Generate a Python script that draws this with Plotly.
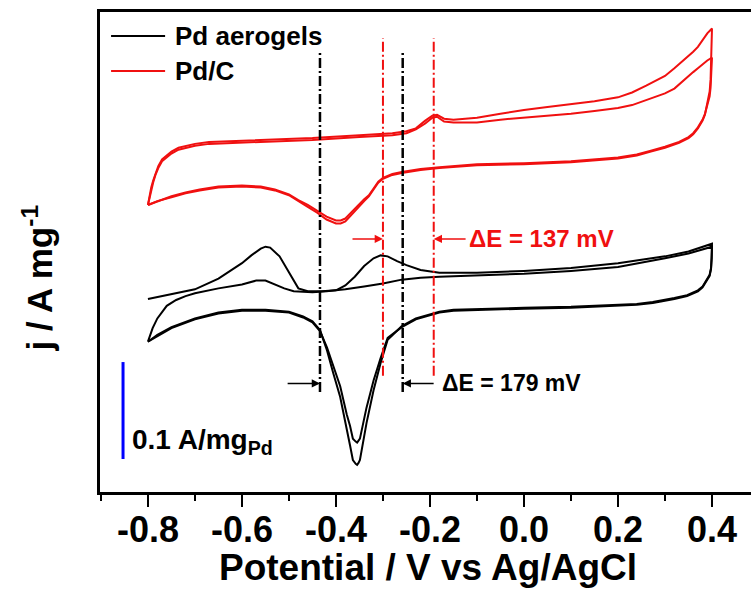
import plotly.graph_objects as go

# ---------------- data ----------------
# Pd aerogels, cycle 1 (anodic then cathodic), j in mA/mg (offset for display)
E_aero_fwd1 = [-0.80, -0.75, -0.70, -0.65, -0.60, -0.58, -0.56, -0.55, -0.54, -0.52, -0.50, -0.49, -0.48,
               -0.46, -0.43, -0.40, -0.38, -0.36, -0.34, -0.32, -0.305, -0.29, -0.27, -0.25, -0.22, -0.18,
               -0.10, 0.00, 0.10, 0.20, 0.30, 0.35, 0.40]
j_aero_fwd1 = [199, 204, 209, 220, 236, 244, 251, 253, 252, 243, 227, 218, 210,
               207, 207, 208, 213, 222, 233, 241, 244, 243, 238, 234, 229, 226,
               226, 228, 231, 236, 243, 248, 256]

E_aero_rev = [0.40, 0.3995, 0.398, 0.395, 0.389, 0.38, 0.37, 0.36, 0.347, 0.32, 0.30, 0.274, 0.24, 0.20,
              0.10, 0.00, -0.10, -0.15, -0.18, -0.23, -0.26, -0.29, -0.305, -0.32, -0.335, -0.345,
              -0.349, -0.352, -0.355, -0.358, -0.364, -0.37, -0.377, -0.391, -0.406, -0.419, -0.434,
              -0.45, -0.47, -0.50, -0.55, -0.60, -0.65, -0.70, -0.75, -0.78, -0.80]
j_aero_rev1 = [256, 241, 231, 224, 219, 212, 208, 206, 203, 200, 198, 196, 194, 193,
               191, 190, 189, 188, 186, 179, 171, 157, 133, 105, 71, 45,
               33, 30, 28, 29, 33, 48, 64, 98, 123, 146, 167,
               176, 181, 186, 188, 188, 185, 179, 170, 162, 155]

# Pd aerogels, cycle 2
E_aero_fwd2 = [-0.80, -0.79, -0.78, -0.76, -0.74, -0.72, -0.70, -0.65, -0.60, -0.57, -0.55, -0.53, -0.51,
               -0.49, -0.45, -0.42, -0.38, -0.34, -0.30, -0.26, -0.22, -0.18, -0.10, 0.00, 0.10, 0.20,
               0.30, 0.35, 0.40]
j_aero_fwd2 = [155, 169, 179, 192, 198, 202, 205, 210, 214, 218, 218, 214, 210,
               207, 206, 207, 209, 212, 215, 219, 221, 222, 223, 225, 228, 232,
               241, 246, 253]
j_aero_rev2 = [253, 239, 230, 223, 218, 211, 207, 205, 202, 199, 197, 195, 193, 192,
               190, 189, 188, 187, 185, 178, 170, 159, 138, 115, 87, 65,
               55, 53, 51, 52, 55, 68, 80, 109, 130, 149, 166,
               175, 180, 185, 187, 187, 184, 178, 169, 161, 155]

# Pd/C, cycles 1 and 2
E_pdc_fwd = [-0.80, -0.797, -0.793, -0.789, -0.784, -0.778, -0.77, -0.76, -0.75, -0.735, -0.72, -0.70, -0.67,
             -0.55, -0.45, -0.35, -0.28, -0.25, -0.23, -0.21, -0.195, -0.185, -0.17, -0.15, -0.10, -0.05,
             0.00, 0.05, 0.10, 0.15, 0.20, 0.23, 0.26, 0.28, 0.30, 0.32, 0.34, 0.36, 0.37, 0.38, 0.39, 0.40]
j_pdc_fwd1 = [296, 304, 314, 321, 329, 336, 343, 347, 351, 355, 357, 359, 361,
              363, 365, 368, 370, 372, 375, 383, 388, 389, 385, 384, 386, 390,
              394, 397, 400, 403, 407, 412, 419, 424, 429, 437, 445, 454, 459, 466, 473, 478]
j_pdc_fwd2 = [296, 303, 312, 319, 327, 334, 341, 345, 349, 353, 355, 357, 359,
              361, 363, 366, 368, 370, 374, 380, 386, 387, 382, 381, 381, 384,
              386, 388, 390, 393, 396, 399, 404, 407, 411, 416, 425, 433, 437, 441, 445, 448]

E_pdc_rev = [0.40, 0.399, 0.397, 0.395, 0.39, 0.385, 0.38, 0.37, 0.36, 0.35, 0.33, 0.30, 0.27, 0.24,
             0.20, 0.15, 0.10, 0.00, -0.10, -0.18, -0.22, -0.26, -0.28, -0.30, -0.31, -0.32, -0.33,
             -0.34, -0.35, -0.36, -0.37, -0.38, -0.39, -0.40, -0.42, -0.44, -0.46, -0.48, -0.50,
             -0.53, -0.56, -0.60, -0.65, -0.69, -0.72, -0.75, -0.78, -0.80]
j_pdc_rev1 = [478, 445, 425, 413, 399, 389, 383, 375, 369, 365, 360, 355, 351, 347,
              344, 342, 340, 338, 337, 334, 332, 329, 327, 323, 319, 312, 305,
              300, 295, 290, 285, 279, 277, 277, 281, 288, 294, 300, 306,
              311, 314, 315, 314, 311, 308, 304, 300, 296]
j_pdc_rev2 = [448, 430, 417, 408, 398, 390, 384, 376, 370, 366, 361, 356, 352, 348,
              345, 343, 341, 339, 338, 335, 333, 330, 328, 324, 320, 313, 306,
              302, 297, 292, 288, 282, 280, 280, 284, 290, 296, 301, 307,
              312, 315, 316, 315, 312, 309, 305, 300, 296]

# peak-potential markers (V) and their vertical extent (mA/mg)
marker_E_aero = [-0.434, -0.258]
marker_E_pdc = [-0.300, -0.192]
marker_j_aero = [103, 454]
marker_j_pdc = [120, 468]

# delta-E labels
dE_aero_text = "ΔE = 179 mV"
dE_pdc_text = "ΔE = 137 mV"
dE_aero_j = 112
dE_pdc_j = 261

# scale bar: 0.1 A/mg = 100 mA/mg
scale_E = -0.853
scale_j = [34, 134]

tick_vals = [-0.8, -0.6, -0.4, -0.2, 0.0, 0.2, 0.4]
tick_text = ["-0.8", "-0.6", "-0.4", "-0.2", "0.0", "0.2", "0.4"]
minor_vals = [-0.9, -0.7, -0.5, -0.3, -0.1, 0.1, 0.3]

series_names = ["Pd aerogels", "Pd/C"]
BLACK = "#000000"
RED = "#f01010"
BLUE = "#0000ff"
FONT = "Liberation Sans, Arial, sans-serif"

# ---------------- figure ----------------
fig = go.Figure()

def add_cv(E, j, color, name):
    fig.add_trace(go.Scatter(x=E, y=j, mode="lines", name=name,
                             line=dict(color=color, width=2),
                             showlegend=False, hoverinfo="skip"))

add_cv(E_aero_fwd1 + E_aero_rev, j_aero_fwd1 + j_aero_rev1, BLACK, series_names[0])
add_cv(E_aero_fwd2 + E_aero_rev, j_aero_fwd2 + j_aero_rev2, BLACK, series_names[0])
add_cv(E_pdc_fwd + E_pdc_rev, j_pdc_fwd1 + j_pdc_rev1, RED, series_names[1])
add_cv(E_pdc_fwd + E_pdc_rev, j_pdc_fwd2 + j_pdc_rev2, RED, series_names[1])

DASHDOT = "10px,3px,2px,3px"
for e in marker_E_aero:
    fig.add_shape(type="line", xref="x", yref="y", x0=e, x1=e,
                  y0=marker_j_aero[0], y1=marker_j_aero[1],
                  line=dict(color=BLACK, width=2.5, dash=DASHDOT))
for e in marker_E_pdc:
    fig.add_shape(type="line", xref="x", yref="y", x0=e, x1=e,
                  y0=marker_j_pdc[0], y1=marker_j_pdc[1],
                  line=dict(color=RED, width=2, dash=DASHDOT))

# scale bar
fig.add_shape(type="line", xref="x", yref="y", x0=scale_E, x1=scale_E,
              y0=scale_j[0], y1=scale_j[1], line=dict(color=BLUE, width=3))

annotations = []

def arrow(x_head, x_tail, y, color):
    annotations.append(dict(x=x_head, y=y, ax=x_tail, ay=y, xref="x", yref="y",
                            axref="x", ayref="y", text="", showarrow=True,
                            arrowhead=2, arrowsize=1.1, arrowwidth=1.5,
                            arrowcolor=color))

arrow(marker_E_aero[0], -0.506, dE_aero_j, BLACK)
arrow(marker_E_aero[1], -0.189, dE_aero_j, BLACK)
arrow(marker_E_pdc[0], -0.368, dE_pdc_j, RED)
arrow(marker_E_pdc[1], -0.121, dE_pdc_j, RED)

annotations.append(dict(x=-0.178, y=dE_aero_j, xref="x", yref="y", text="<b>" + dE_aero_text + "</b>",
                        showarrow=False, xanchor="left", yanchor="middle",
                        font=dict(family=FONT, size=23, color=BLACK)))
annotations.append(dict(x=-0.121, y=dE_pdc_j, xref="x", yref="y", text="<b>" + dE_pdc_text + "</b>",
                        showarrow=False, xanchor="left", yanchor="middle",
                        font=dict(family=FONT, size=24, color=RED)))

annotations.append(dict(x=-0.838, y=52, xref="x", yref="y", text="<b>0.1 A/mg<sub>Pd</sub></b>",
                        showarrow=False, xanchor="left", yanchor="middle",
                        font=dict(family=FONT, size=28, color=BLACK)))

# manual legend
leg_y = [0.95, 0.877]
leg_col = [BLACK, RED]
for name, yy, col in zip(series_names, leg_y, leg_col):
    fig.add_shape(type="line", xref="paper", yref="paper", x0=0.017, x1=0.100, y0=yy, y1=yy,
                  line=dict(color=col, width=2))
    annotations.append(dict(x=0.112, y=yy, xref="paper", yref="paper", text="<b>" + name + "</b>",
                            showarrow=False, xanchor="left", yanchor="middle",
                            font=dict(family=FONT, size=26, color=BLACK)))

# axis titles
annotations.append(dict(x=0.504, y=-0.158, xref="paper", yref="paper",
                        text="<b>Potential / V vs Ag/AgCl</b>", showarrow=False,
                        xanchor="center", yanchor="middle",
                        font=dict(family=FONT, size=37, color=BLACK)))
annotations.append(dict(x=-0.095, y=0.445, xref="paper", yref="paper",
                        text="<b>j / A mg<sup>-1</sup></b>", showarrow=False, textangle=-90,
                        xanchor="center", yanchor="middle",
                        font=dict(family=FONT, size=35, color=BLACK)))

fig.update_layout(
    width=751, height=594,
    margin=dict(l=100, r=0, t=12, b=102),
    paper_bgcolor="white", plot_bgcolor="white",
    showlegend=False,
    annotations=annotations,
    xaxis=dict(range=[-0.902, 0.483], showgrid=False, zeroline=False,
               showline=True, linecolor=BLACK, linewidth=2.5, mirror=True,
               ticks="outside", ticklen=12, tickwidth=2, tickcolor=BLACK,
               tickmode="array", tickvals=tick_vals,
               ticktext=["<b>" + t + "</b>" for t in tick_text],
               ticklabelstandoff=-8,
               tickfont=dict(family=FONT, size=36, color=BLACK),
               minor=dict(tickmode="array", tickvals=minor_vals, ticks="outside",
                          ticklen=6, tickwidth=2, tickcolor=BLACK, showgrid=False)),
    yaxis=dict(range=[0, 495], showgrid=False, zeroline=False,
               showline=True, linecolor=BLACK, linewidth=2.5, mirror=False,
               ticks="", showticklabels=False),
)

fig.write_html("out.html")
